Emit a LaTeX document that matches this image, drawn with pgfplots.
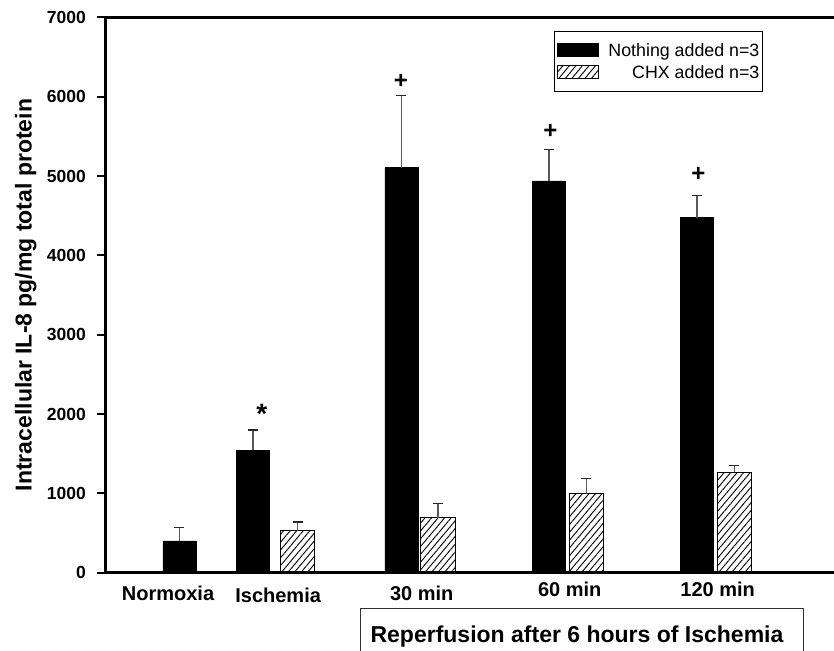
\documentclass[border=0pt]{standalone}
\usepackage{fontspec}
\setmainfont{Liberation Sans}
\usepackage{pgfplots}
\pgfplotsset{compat=1.18}
\usepackage{pgfplotstable}
\usetikzlibrary{patterns.meta}

\pgfplotstableread{
x y err
0.503 400 167
1.000 1543 256
2.003 5105 912
3.000 4937 395
4.000 4474 278
}\nothingtab
\pgfplotstableread{
x y err
1.301 529 110
2.250 693 177
3.253 996 189
4.253 1265 89
}\chxtab

\tikzset{hatch/.style={pattern={Lines[angle=50,distance=5bp,line width=0.9bp]},pattern color=black}}

\begin{document}
\begin{tikzpicture}
\path[use as bounding box] (0,0) rectangle (834bp,651bp);
\begin{axis}[
 at={(105bp,78.3bp)}, anchor=south west,
 scale only axis, width=729bp, height=555.4bp,
 xmin=0, xmax=4.926, ymin=0, ymax=7000,
 axis x line*=box, axis y line*=left,
 axis line style={line width=3bp, line cap=rect},
 ytick={0,1000,...,7000},
 ytick pos=left, tick align=outside,
 major tick length=8bp,
 ytick style={line width=2bp, black},
 xtick={0.426,1.17,2.14,3.14,4.14},
 xticklabels={Normoxia,\raisebox{-2bp}{Ischemia},30 min,\raisebox{4bp}{60 min},\raisebox{4bp}{120 min}},
 xtick style={draw=none},
 /pgf/number format/assume math mode=true,
 /pgf/number format/1000 sep={},
 yticklabel shift=11bp,
 yticklabel style={font=\bfseries\fontsize{17.5bp}{20bp}\selectfont, anchor=east, inner sep=0pt},
 xticklabel style={font=\bfseries\fontsize{20bp}{24bp}\selectfont, anchor=base, inner sep=0pt, yshift=-20bp},
 ylabel={Intracellular IL-8 pg/mg total protein},
 ylabel style={at={(axis description cs:0,0.5)}, anchor=base, yshift=73.5bp, font=\bfseries\fontsize{23bp}{27bp}\selectfont},
 legend cell align=right,
 legend style={at={(rel axis cs:0.9026,0.976)}, anchor=north east, draw=black, line width=1.2bp,
   font=\fontsize{17.8bp}{21bp}\selectfont, inner xsep=3bp, inner ysep=12bp, row sep=8bp, column sep=9bp,
   nodes={inner sep=0pt, text depth=0pt, text height=13bp}},
 legend image code/.code={\draw[#1,line width=1bp] (0bp,-6.5bp) rectangle (41bp,6.5bp);},
 clip=false,
]
\addplot[ybar, bar shift=0pt, bar width=0.223, fill=black, draw=black, line width=0.8bp,
  error bars/.cd, y dir=plus, y explicit,
  error bar style={line width=1.3bp, color=black!65},
  error mark options={rotate=90, mark size=5bp, line width=1.3bp, color=black!85}]
  table[x=x, y=y, y error=err]{\nothingtab};
\addlegendentry{Nothing added n=3}
\addplot[ybar, bar shift=0pt, bar width=0.232, fill=white, hatch, draw=black, line width=1.2bp,
  error bars/.cd, y dir=plus, y explicit,
  error bar style={line width=1.3bp, color=black!65},
  error mark options={rotate=90, mark size=5bp, line width=1.3bp, color=black!85}]
  table[x=x, y=y, y error=err]{\chxtab};
\addlegendentry{CHX added n=3}
\node[font=\bfseries\fontsize{28bp}{28bp}\selectfont] at (axis cs:1.059,2000) {*};
\node[font=\bfseries\fontsize{24bp}{24bp}\selectfont] at (axis cs:2.0,6185) {+};
\node[font=\bfseries\fontsize{24bp}{24bp}\selectfont] at (axis cs:3.01,5560) {+};
\node[font=\bfseries\fontsize{24bp}{24bp}\selectfont] at (axis cs:4.01,5022) {+};
\end{axis}
\draw[line width=1bp, black!80] (360bp,-2bp) -- (360bp,42bp) -- (803bp,42bp) -- (803bp,-2bp);
\node[anchor=base, inner sep=0pt, font=\bfseries\fontsize{23bp}{27bp}\selectfont] at (577bp,9bp) {Reperfusion after 6 hours of Ischemia};
\end{tikzpicture}
\end{document}
